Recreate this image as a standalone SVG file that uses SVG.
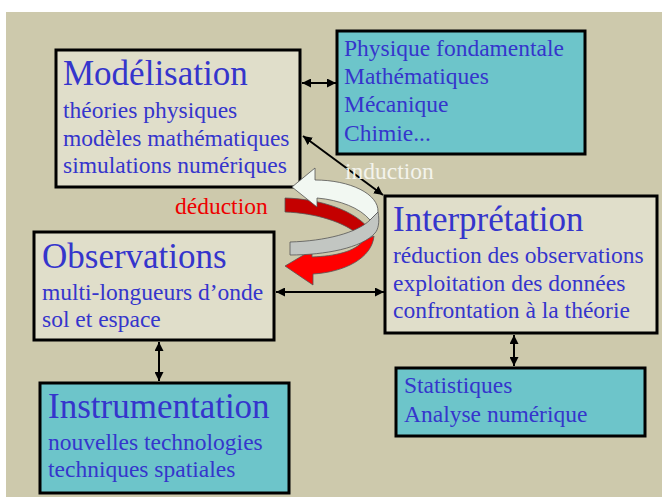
<svg xmlns="http://www.w3.org/2000/svg" width="662" height="497" viewBox="0 0 662 497">
<defs>
<style>
.box{stroke:#000;stroke-width:3}
.beige{fill:#E0DECA}
.teal{fill:#6DC5CA}
text{font-family:"Liberation Serif","Times New Roman",serif;fill:#3535CC}
.t{font-size:35px}
.s{font-size:23.5px}
.con{stroke:#000;stroke-width:2;fill:none;marker-start:url(#ah);marker-end:url(#ah)}
.sw{stroke:#555;stroke-width:0.8}
</style>
<marker id="ah" viewBox="0 0 10 10" refX="10" refY="5" markerWidth="4.5" markerHeight="4.5" orient="auto-start-reverse">
<path d="M0,0 L10,5 L0,10 Z" fill="#000"/>
</marker>
</defs>
<rect x="0" y="0" width="662" height="497" fill="#fff"/>
<rect x="6" y="12" width="656" height="485" fill="#CDC9AC"/>

<g id="connectors">
<line class="con" x1="302" y1="83" x2="336" y2="83"/>
<line class="con" x1="303" y1="136" x2="383" y2="195"/>
<line class="con" x1="276" y1="292" x2="384" y2="292"/>
<line class="con" x1="159" y1="342" x2="159" y2="381"/>
<line class="con" x1="514" y1="335" x2="514" y2="366"/>
</g>

<g id="modelisation">
<rect class="box beige" x="56" y="50" width="244" height="137"/>
<text class="t" x="63" y="85">Modélisation</text>
<text class="s" x="63" y="118">théories physiques</text>
<text class="s" x="63" y="146">modèles mathématiques</text>
<text class="s" x="63" y="173">simulations numériques</text>
</g>

<g id="fondamentaux">
<rect class="box teal" x="337" y="31" width="248" height="123"/>
<text class="s" x="344" y="56">Physique fondamentale</text>
<text class="s" x="344" y="84">Mathématiques</text>
<text class="s" x="344" y="112">Mécanique</text>
<text class="s" x="344" y="141">Chimie...</text>
</g>

<g id="interpretation">
<rect class="box beige" x="385" y="196" width="272" height="137"/>
<text class="t" x="393" y="231">Interprétation</text>
<text class="s" x="393" y="263">réduction des observations</text>
<text class="s" x="393" y="291">exploitation des données</text>
<text class="s" x="393" y="318">confrontation à la théorie</text>
</g>

<g id="observations">
<rect class="box beige" x="34" y="232" width="240" height="108"/>
<text class="t" x="42" y="268">Observations</text>
<text class="s" x="42" y="300">multi-longueurs d’onde</text>
<text class="s" x="42" y="327">sol et espace</text>
</g>

<g id="instrumentation">
<rect class="box teal" x="40" y="383" width="249" height="110"/>
<text class="t" x="48" y="418">Instrumentation</text>
<text class="s" x="48" y="450">nouvelles technologies</text>
<text class="s" x="48" y="477">techniques spatiales</text>
</g>

<g id="statistiques">
<rect class="box teal" x="396" y="368" width="249" height="68"/>
<text class="s" x="404" y="393">Statistiques</text>
<text class="s" x="404" y="422">Analyse numérique</text>
</g>

<g id="cycle">
<path class="sw" fill="#C40000" d="M285,198 C320,199 355,210 370,230 L360,236 C345,222 315,213 285,212 Z"/>
<path class="sw" fill="#FF0000" d="M285,266 L312,250 L312,257 C335,256 355,252 364,240 L374,236 C372,258 345,272 313,274 L313,285 Z"/>
<path class="sw" fill="#F2F8F2" d="M292,187 L315,168 L315,180 C350,180 379,194 378,212 L370,220 C360,208 340,200 317,198 L317,207 Z"/>
<path class="sw" fill="#C2C6C2" d="M370,220 L378,212 C380,222 378,230 375,233 C362,248 325,255 290,255 L290,242 C325,241 357,233 370,220 Z"/>
<text style="font-size:23.5px;fill:#F4F4EC" x="345" y="179">induction</text>
<text style="font-size:23.5px;fill:#EE0000" x="175" y="214">déduction</text>
</g>
</svg>
